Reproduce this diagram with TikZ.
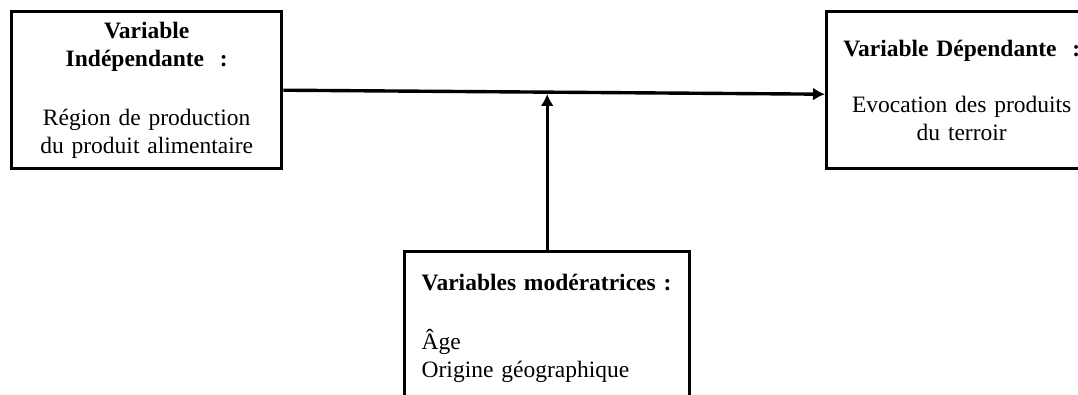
\documentclass[tikz,border=0pt]{standalone}
\usepackage{fontspec}
\setmainfont{Liberation Serif}
\usepackage{tikz}
\usetikzlibrary{arrows.meta}
\usetikzlibrary{positioning}
\usetikzlibrary{calc}
\tikzset{varbox/.style = {draw, line width=3.4pt, font=\fontsize{23.5}{28}\selectfont,
                          inner xsep=8pt, inner ysep=0pt},
         link/.style = {line width=3.4pt, -{Latex[length=12pt,width=13pt]}}}

\begin{document}
\begin{tikzpicture}[x=1pt, y=-1pt]
      \useasboundingbox (0, 0) rectangle (1078, 394);
      \clip (0, 0) rectangle (1078, 394);

      \node [varbox, anchor=north west, text width=254pt, minimum height=157pt, align=center]
            (vi) at (10, 10) {\textbf{Variable}\\\textbf{Indépendante\ \ :}\\[31pt]
                              Région de production\\du produit alimentaire};
      \node [varbox, anchor=north west, text width=254pt, minimum height=157pt, align=center]
            (vd) at (825, 10) {\textbf{Variable Dépendante\ \ :}\\[28pt]
                               Evocation des produits\\du terroir\\[-8pt]};
      \node [varbox, anchor=north west, text width=251pt, inner xsep=17pt, inner ysep=22pt, align=left]
            (vm) at (403, 250) {\textbf{Variables modératrices :}\\[31pt]
                                Âge\\Origine géographique};

      \draw [link] (vi.east) -- ([yshift=-4pt]vd.west);
      \coordinate (m) at ($(vi.east)!0.49!([yshift=-4pt]vd.west)$);
      \draw [link, shorten >=1.8pt] (vm.north) -- (vm.north |- m);
    \end{tikzpicture}
\end{document}
